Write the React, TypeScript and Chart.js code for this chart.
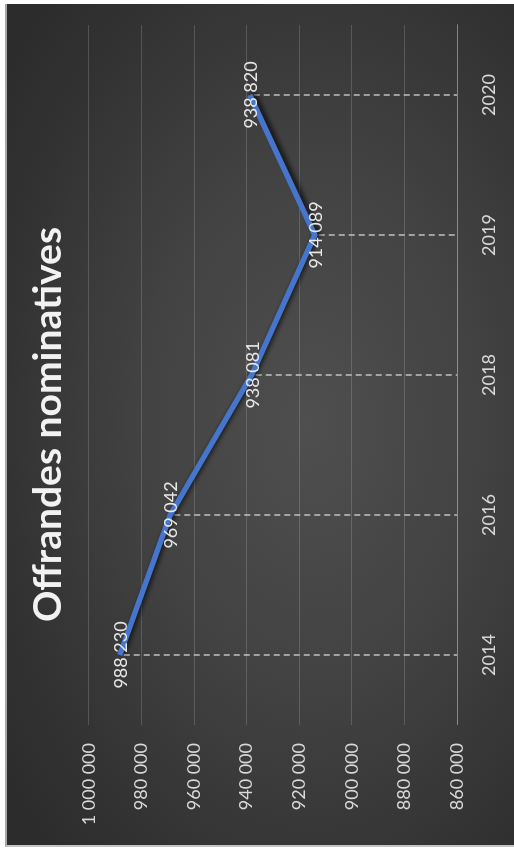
import React, { useEffect, useRef } from 'react';
import { Chart, registerables } from 'chart.js';

Chart.register(...registerables);

// ---- data ----
const categories: string[] = ['2014', '2016', '2018', '2019', '2020'];
const offrandes: number[] = [988230, 969042, 938081, 914089, 938820];
const yMin = 860000;
const yMax = 1000000;
const yStep = 20000;
const chartTitle = 'Offrandes nominatives';

const fmt = (n: number) => Math.round(n).toString().replace(/\B(?=(\d{3})+(?!\d))/g, ' ');

const FONT = 'Lato, "Open Sans", sans-serif';

export default function App() {
  const ref = useRef<HTMLCanvasElement>(null);

  useEffect(() => {
    const canvas = ref.current;
    if (!canvas) return;

    const dropLines = {
      id: 'dropLines',
      beforeDatasetsDraw(chart: any) {
        const meta = chart.getDatasetMeta(0);
        const ctx = chart.ctx as CanvasRenderingContext2D;
        const bottom = chart.scales.y.getPixelForValue(yMin);
        ctx.save();
        ctx.strokeStyle = 'rgba(215,215,215,0.85)';
        ctx.lineWidth = 1.5;
        ctx.setLineDash([6, 4]);
        meta.data.forEach((p: any) => {
          ctx.beginPath();
          ctx.moveTo(p.x, p.y + 4);
          ctx.lineTo(p.x, bottom);
          ctx.stroke();
        });
        ctx.restore();
      },
    };

    const lineShadow = {
      id: 'lineShadow',
      beforeDatasetDraw(chart: any) {
        const ctx = chart.ctx as CanvasRenderingContext2D;
        ctx.save();
        ctx.shadowColor = 'rgba(0,0,0,0.75)';
        ctx.shadowBlur = 5;
        ctx.shadowOffsetX = 2;
        ctx.shadowOffsetY = 3;
      },
      afterDatasetDraw(chart: any) {
        chart.ctx.restore();
      },
    };

    const valueLabels = {
      id: 'valueLabels',
      afterDatasetsDraw(chart: any) {
        const meta = chart.getDatasetMeta(0);
        const ctx = chart.ctx as CanvasRenderingContext2D;
        ctx.save();
        ctx.fillStyle = '#e8e8e8';
        ctx.font = `18px ${FONT}`;
        ctx.textAlign = 'center';
        ctx.textBaseline = 'alphabetic';
        meta.data.forEach((p: any, i: number) => {
          ctx.fillText(fmt(offrandes[i]), p.x, p.y + 7);
        });
        ctx.restore();
      },
    };

    const chart = new Chart(canvas, {
      type: 'line',
      data: {
        labels: categories,
        datasets: [
          {
            data: offrandes,
            borderColor: '#4575CC',
            backgroundColor: '#4575CC',
            borderWidth: 5.5,
            pointRadius: 0,
            tension: 0,
            fill: false,
          },
        ],
      },
      options: {
        responsive: false,
        animation: false,
        layout: { padding: { top: 0, left: 0, right: 0, bottom: 0 } },
        plugins: {
          legend: { display: false },
          tooltip: { enabled: false },
          title: {
            display: true,
            text: chartTitle,
            color: '#f2f2f2',
            font: { family: FONT, size: 39, weight: 'bold' },
            padding: { top: 25, bottom: 17 },
          },
        },
        scales: {
          x: {
            offset: true,
            grid: { display: false, drawTicks: false },
            border: { display: true, color: 'rgba(255,255,255,0.28)', width: 1 },
            ticks: {
              color: '#d9d9d9',
              font: { family: FONT, size: 18 },
              padding: 21,
              maxRotation: 0,
            },
            afterFit(scale: any) {
              scale.height = 57;
            },
          },
          y: {
            min: yMin,
            max: yMax,
            grid: { color: 'rgba(255,255,255,0.16)', lineWidth: 1, drawTicks: false },
            border: { display: false },
            ticks: {
              stepSize: yStep,
              color: '#d9d9d9',
              font: { family: FONT, size: 18 },
              padding: 18,
              callback: (v: any) => fmt(Number(v)),
            },
            afterFit(scale: any) {
              scale.width = 124;
            },
          },
          y2: {
            position: 'right',
            display: true,
            grid: { display: false, drawTicks: false },
            border: { display: false },
            ticks: { display: false },
            afterFit(scale: any) {
              scale.width = 25;
            },
          },
        },
      },
      plugins: [dropLines, lineShadow, valueLabels],
    } as any);

    return () => chart.destroy();
  }, []);

  return (
    <div
      style={{
        position: 'absolute',
        left: 0,
        top: 0,
        width: 514,
        height: 849,
        background: '#ffffff',
        overflow: 'hidden',
      }}
    >
      <div
        style={{
          position: 'absolute',
          left: 0,
          top: 0,
          width: 849,
          height: 514,
          transformOrigin: '0 0',
          transform: 'translateY(849px) rotate(-90deg)',
        }}
      >
        <div
          style={{
            position: 'absolute',
            left: 2,
            top: 5,
            width: 843,
            height: 509,
            boxSizing: 'border-box',
            borderTop: '2px solid #a8a8a8',
            borderLeft: '2px solid #c4c4c4',
            background:
              'radial-gradient(ellipse 70% 75% at 50% 60%, #4f4f4f 0%, #424242 45%, #333333 80%, #2c2c2c 100%)',
          }}
        />
        <canvas
          ref={ref}
          width={849}
          height={514}
          style={{ position: 'absolute', left: 0, top: 0 }}
        />
      </div>
    </div>
  );
}
